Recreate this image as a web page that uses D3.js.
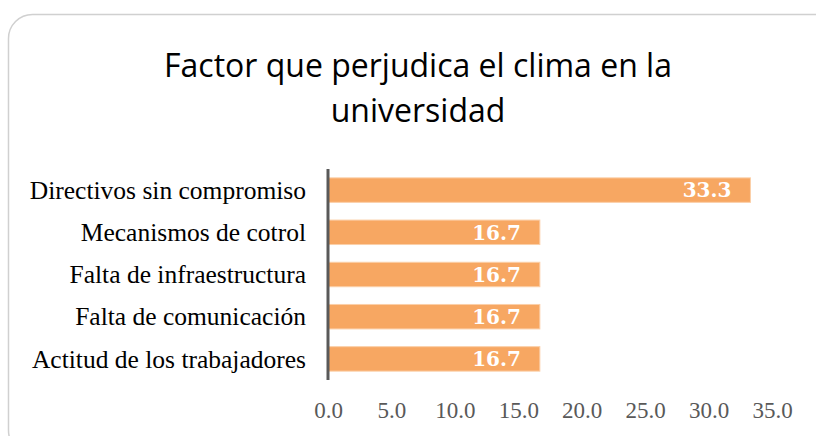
<!DOCTYPE html>
<html>
<head>
<meta charset="utf-8">
<script src="https://cdn.jsdelivr.net/npm/d3@7"></script>
<style>
  body { margin: 0; background: #fff; }
</style>
</head>
<body>
<svg id="chart" width="816" height="436"></svg>
<script>
// data
const categories = ['Directivos sin compromiso', 'Mecanismos de cotrol', 'Falta de infraestructura', 'Falta de comunicación', 'Actitud de los trabajadores'];
const values = [33.3, 16.7, 16.7, 16.7, 16.7];
const ticks = [0, 5, 10, 15, 20, 25, 30, 35];
const titleLines = ['Factor que perjudica el clima en la', 'universidad'];

const svg = d3.select('#chart');

// chart frame
svg.append('rect')
    .attr('x', 8.5)
    .attr('y', 14.5)
    .attr('width', 830)
    .attr('height', 440)
    .attr('rx', 24)
    .attr('fill', '#fff')
    .attr('stroke', '#d0d0d0')
    .attr('stroke-width', 1.5);

// title
svg.append('g')
    .selectAll('text')
    .data(titleLines)
    .enter().append('text')
    .attr('x', 418)
    .attr('y', (d, i) => 77 + i * 45)
    .attr('text-anchor', 'middle')
    .attr('font-family', 'Open Sans, sans-serif')
    .attr('font-size', 32)
    .attr('fill', '#000')
    .text(d => d);

const x = d3.scaleLinear()
    .domain([0, 35])
    .range([328, 772]);

const y = d3.scaleBand()
    .domain(categories)
    .range([169, 380])
    .paddingInner(0.42)
    .paddingOuter(0.21);

// bars
svg.append('g')
    .selectAll('rect')
    .data(values)
    .enter().append('rect')
    .attr('x', x(0))
    .attr('y', (d, i) => y(categories[i]))
    .attr('width', d => x(d) - x(0))
    .attr('height', y.bandwidth())
    .attr('fill', '#F7A762')
    .attr('stroke', '#FBCFA8')
    .attr('stroke-width', 1);

// value labels
svg.append('g')
    .selectAll('text')
    .data(values)
    .enter().append('text')
    .attr('x', d => x(d) - 19)
    .attr('y', (d, i) => y(categories[i]) + y.bandwidth() / 2)
    .attr('dy', '0.36em')
    .attr('text-anchor', 'end')
    .attr('font-family', 'DejaVu Serif, serif')
    .attr('font-weight', 'bold')
    .attr('font-size', 20)
    .attr('fill', '#fff')
    .text(d => d.toFixed(1));

// category labels
svg.append('g')
    .selectAll('text')
    .data(categories)
    .enter().append('text')
    .attr('x', 306)
    .attr('y', d => y(d) + y.bandwidth() / 2)
    .attr('dy', '0.34em')
    .attr('text-anchor', 'end')
    .attr('font-family', 'Liberation Serif, serif')
    .attr('font-size', 25.5)
    .attr('fill', '#000')
    .text(d => d);

// x tick labels
const xAxis = d3.axisBottom(x)
    .tickValues(ticks)
    .tickFormat(d3.format('.1f'))
    .tickSize(0)
    .tickPadding(0);

const gx = svg.append('g')
    .attr('transform', 'translate(0, 402)')
    .call(xAxis);
gx.select('.domain').remove();
gx.selectAll('text')
    .attr('font-family', 'Liberation Serif, serif')
    .attr('font-size', 23)
    .attr('fill', '#595959');

// vertical axis line
svg.append('line')
    .attr('x1', x(0))
    .attr('x2', x(0))
    .attr('y1', 169)
    .attr('y2', 380)
    .attr('stroke', '#595959')
    .attr('stroke-width', 3);
</script>
</body>
</html>
